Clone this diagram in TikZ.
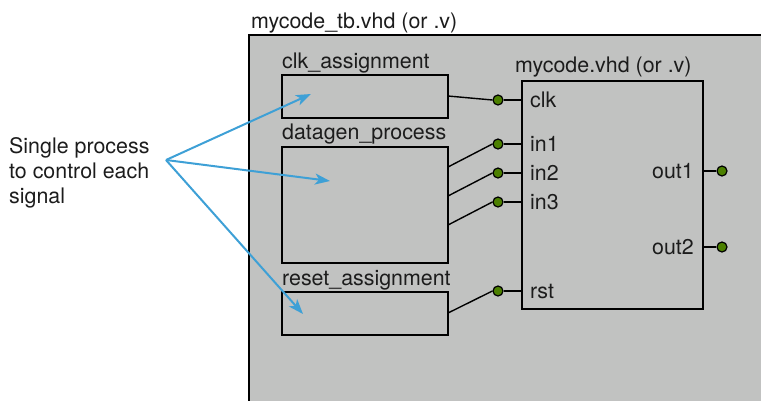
\documentclass[tikz,border=0pt]{standalone}
\usepackage{fontspec}
\setmainfont{TeX Gyre Heros}
\usetikzlibrary{arrows.meta,calc}
\definecolor{panelgray}{HTML}{C1C2C1}
\definecolor{pingreen}{HTML}{4C8000}
\definecolor{callout}{HTML}{3EA0D6}
\definecolor{inkdark}{HTML}{1C1C1C}
\begin{document}
\begin{tikzpicture}[x=1pt,y=-1pt,
  font=\fontsize{21.4}{25}\selectfont,
  every node/.style={text=inkdark},
  wire/.style={draw=black,line width=1.4pt},
  procbox/.style={wire},
  pindot/.style={circle,draw=black,line width=1.2pt,fill=pingreen,minimum size=10pt,inner sep=0pt},
  caption/.style={anchor=base west,inner sep=0pt},
  portlabel/.style={inner sep=0pt,text height=15pt,text depth=0pt},
  pointer/.style={draw=callout,line width=2pt,-{Stealth[length=15pt,width=11pt,inset=4pt]}}]
\useasboundingbox (0,0) rectangle (761,400);
\clip (0,0) rectangle (761,400);

% testbench panel
\filldraw[fill=panelgray,wire] (249,35) rectangle (780,420);
\node[caption] (tbtitle) at (251,28) {mycode\_tb.vhd (or .v)};

% process boxes
\draw[procbox] (282,75) rectangle (448,118);
\node[caption] (clklbl) at (282,68) {clk\_assignment};
\draw[procbox] (282,147) rectangle (448,263);
\node[caption] (dglbl) at (282,139) {datagen\_process};
\draw[procbox] (282,292) rectangle (448,335);
\node[caption] (rstlbl) at (282,285) {reset\_assignment};

% unit under test
\draw[wire] (522,81) rectangle (703,309);
\node[caption] (codelbl) at (515,72) {mycode.vhd (or .v)};

% input pins
\foreach \name/\yy in {clk/100,in1/144,in2/173,in3/202,rst/291}{
  \node[pindot] (\name dot) at (498,\yy) {};
  \draw[wire] (\name dot.east) -- (522,\yy);
  \node[portlabel,anchor=west] (\name lbl) at (530,\yy) {\name};
}
% output pins
\foreach \name/\yy in {out1/171,out2/247}{
  \node[pindot] (\name dot) at (722,\yy) {};
  \draw[wire] (703,\yy) -- (\name dot.west);
  \node[portlabel,anchor=east] (\name lbl) at (694,\yy) {\name};
}

% process outputs to pins
\coordinate (clkout) at (448,96);
\coordinate (in1out) at (448,167);
\coordinate (in2out) at (448,196);
\coordinate (in3out) at (448,225);
\coordinate (rstout) at (448,313);
\foreach \name in {clk,in1,in2,in3,rst}{
  \draw[wire] (\name out) -- (\name dot.west);
}

% annotation
\node[caption] (note1) at (9,153) {Single process};
\node[caption] (note2) at (9,178) {to control each};
\node[caption] (note3) at (9,203) {signal};
\coordinate (src) at (166,160);
\coordinate (clktip) at (311,94);
\coordinate (dgtip) at (330,181);
\coordinate (rsttip) at (303,314);
\draw[pointer] (src) -- (clktip);
\draw[pointer] (src) -- (dgtip);
\draw[pointer] (src) -- (rsttip);
\end{tikzpicture}
\end{document}
